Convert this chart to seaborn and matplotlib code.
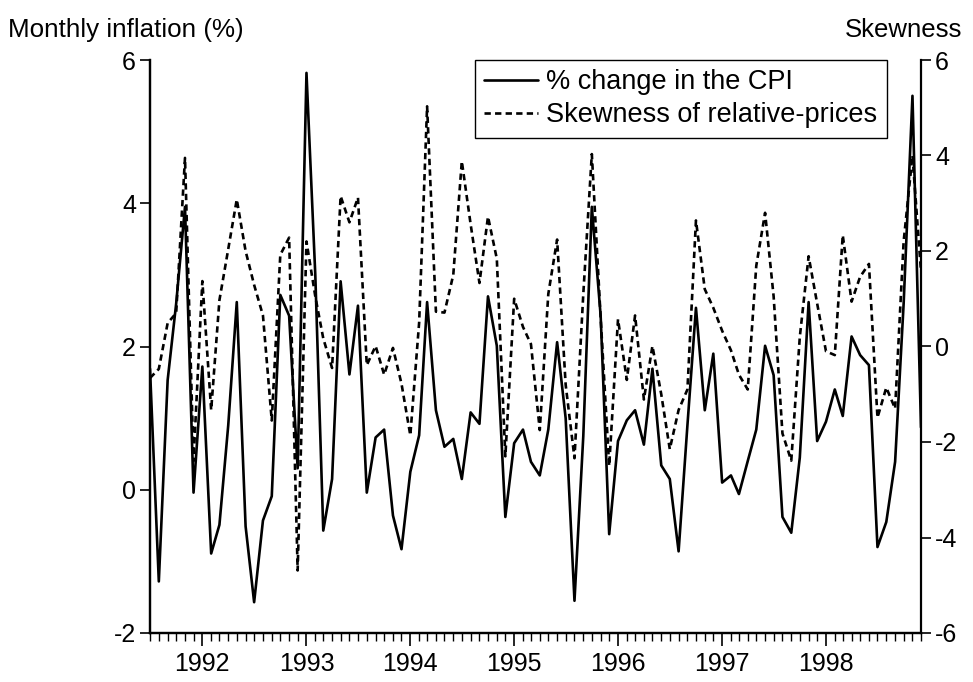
import matplotlib
matplotlib.use("Agg")
import matplotlib.dates as mdates
import matplotlib.pyplot as plt
import pandas as pd
import seaborn as sns

# monthly observations, Jul 1991 - Dec 1998
months = pd.date_range("1991-07-01", periods=90, freq="MS")

cpi_change = [
    1.69, -1.28, 1.53, 2.6, 3.95, -0.04,                                   # 1991 H2
    1.72, -0.89, -0.49, 0.9, 2.62, -0.51, -1.57, -0.43, -0.09, 2.72, 2.43, 0.3,  # 1992
    5.82, 3.0, -0.57, 0.15, 2.91, 1.61, 2.57, -0.04, 0.73, 0.84, -0.36, -0.83,   # 1993
    0.25, 0.76, 2.62, 1.11, 0.6, 0.71, 0.15, 1.08, 0.92, 2.7, 2.01, -0.38,       # 1994
    0.65, 0.84, 0.39, 0.2, 0.84, 2.06, 1.0, -1.55, 0.75, 3.95, 2.43, -0.62,      # 1995
    0.68, 0.97, 1.11, 0.63, 1.69, 0.34, 0.15, -0.86, 0.9, 2.54, 1.11, 1.9,       # 1996
    0.1, 0.2, -0.06, 0.4, 0.84, 2.01, 1.6, -0.38, -0.6, 0.45, 2.62, 0.68,        # 1997
    0.95, 1.4, 1.03, 2.14, 1.88, 1.74, -0.8, -0.45, 0.39, 2.6, 5.5, 0.87,        # 1998
]

skewness = [
    -0.66, -0.47, 0.49, 0.7, 3.95, -2.4,
    1.37, -1.33, 0.97, 2.04, 3.08, 2.0, 1.29, 0.65, -1.55, 1.92, 2.28, -4.69,
    2.2, 1.05, 0.17, -0.45, 3.15, 2.6, 3.12, -0.39, 0.01, -0.59, -0.03, -0.78,
    -1.86, 0.5, 5.03, 0.73, 0.71, 1.5, 3.88, 2.56, 1.33, 2.72, 1.84, -2.3,
    1.0, 0.41, 0.05, -1.75, 1.1, 2.24, -0.8, -2.34, 1.1, 4.03, 0.6, -2.5,
    0.57, -0.7, 0.65, -1.11, 0.01, -1.0, -2.15, -1.33, -0.9, 2.64, 1.2, 0.81,
    0.33, -0.08, -0.59, -0.9, 1.69, 2.8, 1.05, -1.82, -2.39, 0.2, 1.89, 0.9,
    -0.1, -0.18, 2.33, 0.94, 1.46, 1.73, -1.49, -0.86, -1.3, 2.2, 4.0, 1.57,
]

left_ticks = [-2, 0, 2, 4, 6]
right_ticks = [-6, -4, -2, 0, 2, 4, 6]

sns.set_theme(style="ticks")
plt.rcParams["font.family"] = ["Liberation Sans", "DejaVu Sans"]
plt.rcParams["axes.unicode_minus"] = False
for key in ("text.color", "axes.labelcolor", "xtick.color", "ytick.color", "axes.edgecolor"):
    plt.rcParams[key] = "black"

W, H = 973, 682
fig = plt.figure(figsize=(W / 100, H / 100), dpi=100)
ax = fig.add_axes([150 / W, 1 - 633 / H, (921 - 150) / W, (633 - 60) / H])
ax2 = ax.twinx()

sns.lineplot(x=months, y=cpi_change, ax=ax, color="black", linewidth=1.9)
sns.lineplot(x=months, y=skewness, ax=ax2, color="black", linewidth=1.9,
             linestyle=(0, (2.4, 1.6)))

ax.set_xlim(months[0], months[-1])
ax.set_ylim(-2, 6)
ax2.set_ylim(-6, 6)
ax.set_yticks(left_ticks)
ax2.set_yticks(right_ticks)
ax.set_xlabel("")
ax.set_ylabel("")
ax2.set_ylabel("")

ax.xaxis.set_major_locator(mdates.YearLocator())
ax.xaxis.set_major_formatter(mdates.DateFormatter("%Y"))
ax.xaxis.set_minor_locator(mdates.MonthLocator())

for a in (ax, ax2):
    a.spines["top"].set_visible(False)
    for s in a.spines.values():
        s.set_linewidth(1.6)
ax.spines["right"].set_visible(False)

ax.tick_params(axis="y", direction="out", length=7, width=1.2, labelsize=18, pad=3)
ax2.tick_params(axis="y", direction="out", length=7, width=1.2, labelsize=18, pad=3)
ax.tick_params(axis="x", which="major", direction="out", length=9, width=1.2,
               labelsize=18, pad=5)
ax.tick_params(axis="x", which="minor", direction="out", length=6, width=1.0)

fig.text(8 / W, 1 - 30 / H, "Monthly inflation (%)", fontsize=18.7, ha="left", va="center")
fig.text(962 / W, 1 - 30 / H, "Skewness", fontsize=18.5, ha="right", va="center")

handles = [ax.get_lines()[0], ax2.get_lines()[0]]
labels = ["% change in the CPI", "Skewness of relative-prices"]
leg = fig.legend(handles, labels, loc="upper right", bbox_to_anchor=(887 / W, 1 - 60 / H),
                 frameon=True, fancybox=False, edgecolor="black", framealpha=1,
                 fontsize=19.5, handlelength=2.0, borderpad=0.35, labelspacing=0.25,
                 handletextpad=0.3, borderaxespad=0)
leg.get_frame().set_linewidth(1.0)

fig.savefig("out.png", dpi=100)
plt.close(fig)
